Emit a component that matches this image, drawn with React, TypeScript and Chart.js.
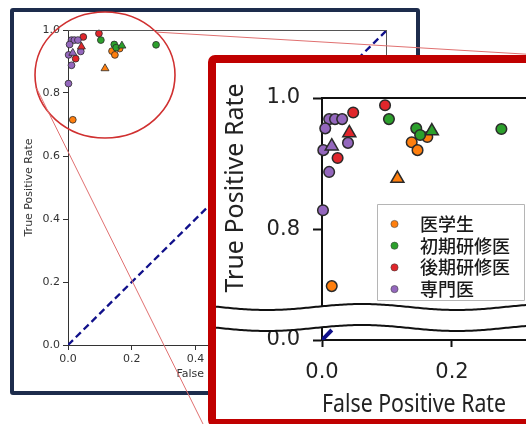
import React, { useEffect, useRef } from 'react';
import { Chart, registerables } from 'chart.js';

Chart.register(...registerables);

// ---------------- data ----------------
const groupNames = ['医学生', '初期研修医', '後期研修医', '専門医'];
const groupColors = ['#ff7f0e', '#2ca02c', '#e0262b', '#9467bd'];

// circles: (False Positive Rate, True Positive Rate)
const studentFpr = [0.162, 0.138, 0.147, 0.015];
const studentTpr = [0.941, 0.933, 0.921, 0.715];
const juniorFpr = [0.103, 0.145, 0.151, 0.276];
const juniorTpr = [0.968, 0.954, 0.944, 0.953];
const seniorFpr = [0.097, 0.048, 0.024];
const seniorTpr = [0.989, 0.978, 0.909];
const specialistFpr = [0.011, 0.02, 0.031, 0.005, 0.04, 0.002, 0.011, 0.0015];
const specialistTpr = [0.968, 0.968, 0.968, 0.954, 0.932, 0.921, 0.888, 0.83];

// triangles: one per group (same order as groupNames)
const triangleFpr = [0.116, 0.169, 0.042, 0.015];
const triangleTpr = [0.878, 0.95, 0.947, 0.927];

// chance diagonal
const chanceFpr = [0, 1];
const chanceTpr = [0, 1];

// tick values
const mainTicks = [0, 0.2, 0.4, 0.6, 0.8, 1];
const insetXTicks = [0, 0.2];
const insetTopYTicks = [0.8, 1];
const insetBottomYTicks = [0];

// ---------------- helpers ----------------
const INSET_XMAX = 0.2831;
const INSET_TOP_YMIN = 2 / 3;
const INSET_BOTTOM_YMAX = 0.0333;

const circleSets = [
  [studentFpr, studentTpr],
  [juniorFpr, juniorTpr],
  [seniorFpr, seniorTpr],
  [specialistFpr, specialistTpr],
];

type Style = { r: number; tr: number; bw: number; lw: number; dash: number[] };

function makeDatasets(s: Style, withPoints: boolean) {
  const ds: any[] = [
    {
      label: 'chance',
      data: chanceFpr.map((x, i) => ({ x, y: chanceTpr[i] })),
      showLine: true,
      borderColor: '#10108a',
      borderWidth: s.lw,
      borderDash: s.dash,
      pointRadius: 0,
      fill: false,
      order: 20,
    },
  ];
  if (!withPoints) return ds;
  circleSets.forEach(([xs, ys], g) => {
    ds.push({
      label: groupNames[g],
      data: xs.map((x, i) => ({ x, y: ys[i] })),
      backgroundColor: groupColors[g],
      borderColor: '#2a2a2a',
      borderWidth: s.bw,
      pointRadius: s.r,
      pointStyle: 'circle',
      clip: false,
      order: 12 - g,
    });
  });
  groupNames.forEach((name, g) => {
    ds.push({
      label: name + ' ▲',
      data: [{ x: triangleFpr[g], y: triangleTpr[g] }],
      backgroundColor: groupColors[g],
      borderColor: '#2a2a2a',
      borderWidth: s.bw,
      pointRadius: s.tr,
      pointStyle: 'triangle',
      clip: false,
      order: 6 - g,
    });
  });
  return ds;
}

const fmt = (v: any) => Number(v).toFixed(1);
const setTicks = (arr: number[]) => (scale: any) => {
  scale.ticks = arr.map((v) => ({ value: v }));
};

// ---------------- decorations ----------------
const ELLIPSE_CENTER = { fpr: 0.116, tpr: 0.857 };
const ELLIPSE_RX = 70;
const ELLIPSE_RY = 63;
const CONNECT_TOP_END = { x: 540, y: 55 };
const CONNECT_BOTTOM_END = { x: 206, y: 430 };

const mainDecor = {
  id: 'mainDecor',
  afterDraw(chart: any) {
    const { ctx, chartArea: a, scales } = chart;
    ctx.save();
    // top and right spines
    ctx.strokeStyle = '#555';
    ctx.lineWidth = 1;
    ctx.beginPath();
    ctx.moveTo(a.left, Math.round(a.top) + 0.5);
    ctx.lineTo(a.right, Math.round(a.top) + 0.5);
    ctx.moveTo(Math.round(a.right) - 0.5, a.top);
    ctx.lineTo(Math.round(a.right) - 0.5, a.bottom);
    ctx.stroke();
    // zoom ellipse
    const cx = scales.x.getPixelForValue(ELLIPSE_CENTER.fpr);
    const cy = scales.y.getPixelForValue(ELLIPSE_CENTER.tpr);
    ctx.strokeStyle = '#d03030';
    ctx.lineWidth = 1.6;
    ctx.beginPath();
    ctx.ellipse(cx, cy, ELLIPSE_RX, ELLIPSE_RY, 0, 0, Math.PI * 2);
    ctx.stroke();
    // connector lines
    const p = (deg: number) => {
      const t = (deg * Math.PI) / 180;
      return { x: cx + ELLIPSE_RX * Math.cos(t), y: cy + ELLIPSE_RY * Math.sin(t) };
    };
    const s1 = p(-43);
    const s2 = p(168);
    ctx.strokeStyle = '#e07070';
    ctx.lineWidth = 1;
    ctx.beginPath();
    ctx.moveTo(s1.x, s1.y);
    ctx.lineTo(CONNECT_TOP_END.x, CONNECT_TOP_END.y);
    ctx.moveTo(s2.x, s2.y);
    ctx.lineTo(CONNECT_BOTTOM_END.x, CONNECT_BOTTOM_END.y);
    ctx.stroke();
    ctx.restore();
  },
};

const WAVE_UPPER = 244;
const WAVE_LOWER = 265;
const WAVE_AMP = 3;
const WAVE_PERIOD = 190;
const WAVE_PHASE = 51;

const insetTopDecor = {
  id: 'insetTopDecor',
  afterDraw(chart: any) {
    const { ctx, chartArea: a, width } = chart;
    ctx.save();
    // extended top spine
    ctx.strokeStyle = '#111';
    ctx.lineWidth = 2;
    ctx.beginPath();
    ctx.moveTo(a.left - 1, a.top);
    ctx.lineTo(width, a.top);
    ctx.stroke();

    // legend
    const lx = 161, ly = 141, lw = 147, lh = 96;
    ctx.fillStyle = 'rgba(255,255,255,0.9)';
    ctx.strokeStyle = '#b5b5b5';
    ctx.lineWidth = 1;
    ctx.beginPath();
    ctx.rect(lx + 0.5, ly + 0.5, lw, lh);
    ctx.fill();
    ctx.stroke();
    ctx.font = '500 18px "Noto Sans CJK JP", sans-serif';
    ctx.textBaseline = 'middle';
    ctx.textAlign = 'left';
    groupNames.forEach((name, g) => {
      const ry = ly + 20 + g * 21.7;
      ctx.beginPath();
      ctx.arc(lx + 17.5, ry, 3.6, 0, Math.PI * 2);
      ctx.fillStyle = groupColors[g];
      ctx.fill();
      ctx.strokeStyle = '#444';
      ctx.lineWidth = 0.6;
      ctx.stroke();
      ctx.fillStyle = '#1a1a1a';
      ctx.fillText(name, lx + 43, ry);
    });

    // axis break band
    const wave = (x: number, base: number) =>
      base + WAVE_AMP * Math.cos((2 * Math.PI * (x - WAVE_PHASE)) / WAVE_PERIOD);
    ctx.beginPath();
    for (let x = 0; x <= width; x += 2) {
      const y = wave(x, WAVE_UPPER);
      if (x === 0) ctx.moveTo(x, y);
      else ctx.lineTo(x, y);
    }
    for (let x = width; x >= 0; x -= 2) ctx.lineTo(x, wave(x, WAVE_LOWER));
    ctx.closePath();
    ctx.fillStyle = '#fff';
    ctx.fill();
    ctx.strokeStyle = '#111';
    ctx.lineWidth = 2;
    [WAVE_UPPER, WAVE_LOWER].forEach((base) => {
      ctx.beginPath();
      for (let x = 0; x <= width; x += 2) {
        const y = wave(x, base);
        if (x === 0) ctx.moveTo(x, y);
        else ctx.lineTo(x, y);
      }
      ctx.stroke();
    });

    // y-axis title (spans both segments)
    ctx.translate(27, 125);
    ctx.rotate(-Math.PI / 2);
    ctx.font = '25px "Noto Sans", sans-serif';
    ctx.fillStyle = '#222';
    ctx.textAlign = 'center';
    ctx.textBaseline = 'alphabetic';
    ctx.fillText('True Positive Rate', 0, 0);
    ctx.restore();
  },
};

const insetBottomDecor = {
  id: 'insetBottomDecor',
  afterDraw(chart: any) {
    const { ctx, chartArea: a, width } = chart;
    ctx.save();
    ctx.strokeStyle = '#111';
    ctx.lineWidth = 2;
    ctx.beginPath();
    ctx.moveTo(a.right - 1, a.bottom);
    ctx.lineTo(width, a.bottom);
    ctx.stroke();
    ctx.restore();
  },
};

// ---------------- component ----------------
export default function App() {
  const mainRef = useRef<HTMLCanvasElement>(null);
  const topRef = useRef<HTMLCanvasElement>(null);
  const botRef = useRef<HTMLCanvasElement>(null);

  useEffect(() => {
    const smallFont = { family: '"DejaVu Sans", sans-serif', size: 11 };
    const bigTick = { family: '"DejaVu Sans", sans-serif', size: 21 };

    const main = new Chart(mainRef.current!, {
      type: 'scatter',
      data: { datasets: makeDatasets({ r: 3.4, tr: 4.6, bw: 0.8, lw: 2.3, dash: [7, 4] }, true) },
      options: {
        responsive: false,
        animation: false,
        events: [],
        layout: { padding: { left: 0, top: 30, right: 139, bottom: 0 } },
        plugins: { legend: { display: false }, tooltip: { enabled: false } },
        scales: {
          x: {
            type: 'linear',
            min: 0,
            max: 1,
            afterBuildTicks: setTicks(mainTicks),
            afterFit: (s: any) => { s.height = 79; },
            ticks: { font: smallFont, color: '#333', padding: 3, maxRotation: 0, autoSkip: false, callback: fmt },
            grid: { drawOnChartArea: false, tickLength: 5, tickColor: '#333', tickWidth: 1 },
            border: { display: true, color: '#333', width: 1 },
            title: {
              display: true,
              text: 'False Positive Rate',
              color: '#333',
              font: { ...smallFont, lineHeight: 1 },
              padding: { top: 0, bottom: 44 },
            },
          },
          y: {
            type: 'linear',
            min: 0,
            max: 1,
            afterBuildTicks: setTicks(mainTicks),
            afterFit: (s: any) => { s.width = 68; },
            ticks: { font: smallFont, color: '#333', padding: 3, autoSkip: false, callback: fmt },
            grid: { drawOnChartArea: false, tickLength: 5, tickColor: '#333', tickWidth: 1 },
            border: { display: true, color: '#333', width: 1 },
            title: {
              display: true,
              text: 'True Positive Rate',
              color: '#333',
              font: { ...smallFont, lineHeight: 1 },
              padding: { top: 23.5, bottom: 0 },
            },
          },
        },
      } as any,
      plugins: [mainDecor],
    });

    const bottom = new Chart(botRef.current!, {
      type: 'scatter',
      data: { datasets: makeDatasets({ r: 5.3, tr: 7.5, bw: 1.5, lw: 4, dash: [14, 8] }, false) },
      options: {
        responsive: false,
        animation: false,
        events: [],
        layout: { padding: { left: 0, top: 255, right: 34, bottom: 0 } },
        plugins: { legend: { display: false }, tooltip: { enabled: false } },
        scales: {
          x: {
            type: 'linear',
            min: 0,
            max: INSET_XMAX,
            afterBuildTicks: setTicks(insetXTicks),
            afterFit: (s: any) => { s.height = 79; },
            ticks: { font: bigTick, color: '#222', padding: 13, maxRotation: 0, autoSkip: false, callback: fmt },
            grid: { drawOnChartArea: false, tickLength: 7, tickColor: '#111', tickWidth: 2 },
            border: { display: true, color: '#111', width: 2 },
            title: {
              display: true,
              text: 'False Positive Rate',
              color: '#222',
              font: { family: '"Noto Sans", sans-serif', size: 25, lineHeight: 1 },
              padding: { top: 0, bottom: 1.5 },
            },
          },
          y: {
            type: 'linear',
            min: 0,
            max: INSET_BOTTOM_YMAX,
            afterBuildTicks: setTicks(insetBottomYTicks),
            afterFit: (s: any) => { s.width = 106; },
            ticks: { font: bigTick, color: '#222', padding: 13, autoSkip: false, callback: fmt },
            grid: { drawOnChartArea: false, tickLength: 9, tickColor: '#111', tickWidth: 2 },
            border: { display: true, color: '#111', width: 2 },
          },
        },
      } as any,
      plugins: [insetBottomDecor],
    });

    const top = new Chart(topRef.current!, {
      type: 'scatter',
      data: { datasets: makeDatasets({ r: 5.3, tr: 7.5, bw: 1.5, lw: 4, dash: [14, 8] }, true) },
      options: {
        responsive: false,
        animation: false,
        events: [],
        layout: { padding: { left: 0, top: 35, right: 34, bottom: 101 } },
        plugins: { legend: { display: false }, tooltip: { enabled: false } },
        scales: {
          x: { type: 'linear', display: false, min: 0, max: INSET_XMAX },
          y: {
            type: 'linear',
            min: INSET_TOP_YMIN,
            max: 1,
            afterBuildTicks: setTicks(insetTopYTicks),
            afterFit: (s: any) => { s.width = 106; },
            ticks: { font: bigTick, color: '#222', padding: 13, autoSkip: false, callback: fmt },
            grid: { drawOnChartArea: false, tickLength: 9, tickColor: '#111', tickWidth: 2 },
            border: { display: true, color: '#111', width: 2 },
          },
        },
      } as any,
      plugins: [insetTopDecor],
    });

    return () => {
      main.destroy();
      bottom.destroy();
      top.destroy();
    };
  }, []);

  return (
    <div
      style={{
        position: 'fixed',
        left: 0,
        top: 0,
        width: 526,
        height: 424,
        overflow: 'hidden',
        background: '#fff',
      }}
    >
      <div
        style={{
          position: 'absolute',
          left: 10,
          top: 8,
          width: 410,
          height: 387,
          boxSizing: 'border-box',
          border: '4px solid #1d2c4c',
          borderRadius: 3,
        }}
      />
      <canvas
        ref={mainRef}
        width={526}
        height={424}
        style={{ position: 'absolute', left: 0, top: 0, width: 526, height: 424 }}
      />
      <div
        style={{
          position: 'absolute',
          left: 208,
          top: 55,
          width: 340,
          height: 372,
          boxSizing: 'border-box',
          border: '8px solid #c00000',
          borderRadius: 7,
          background: '#fff',
        }}
      >
        <canvas
          ref={botRef}
          width={324}
          height={356}
          style={{ position: 'absolute', left: 0, top: 0, width: 324, height: 356 }}
        />
        <canvas
          ref={topRef}
          width={324}
          height={356}
          style={{ position: 'absolute', left: 0, top: 0, width: 324, height: 356 }}
        />
      </div>
    </div>
  );
}
